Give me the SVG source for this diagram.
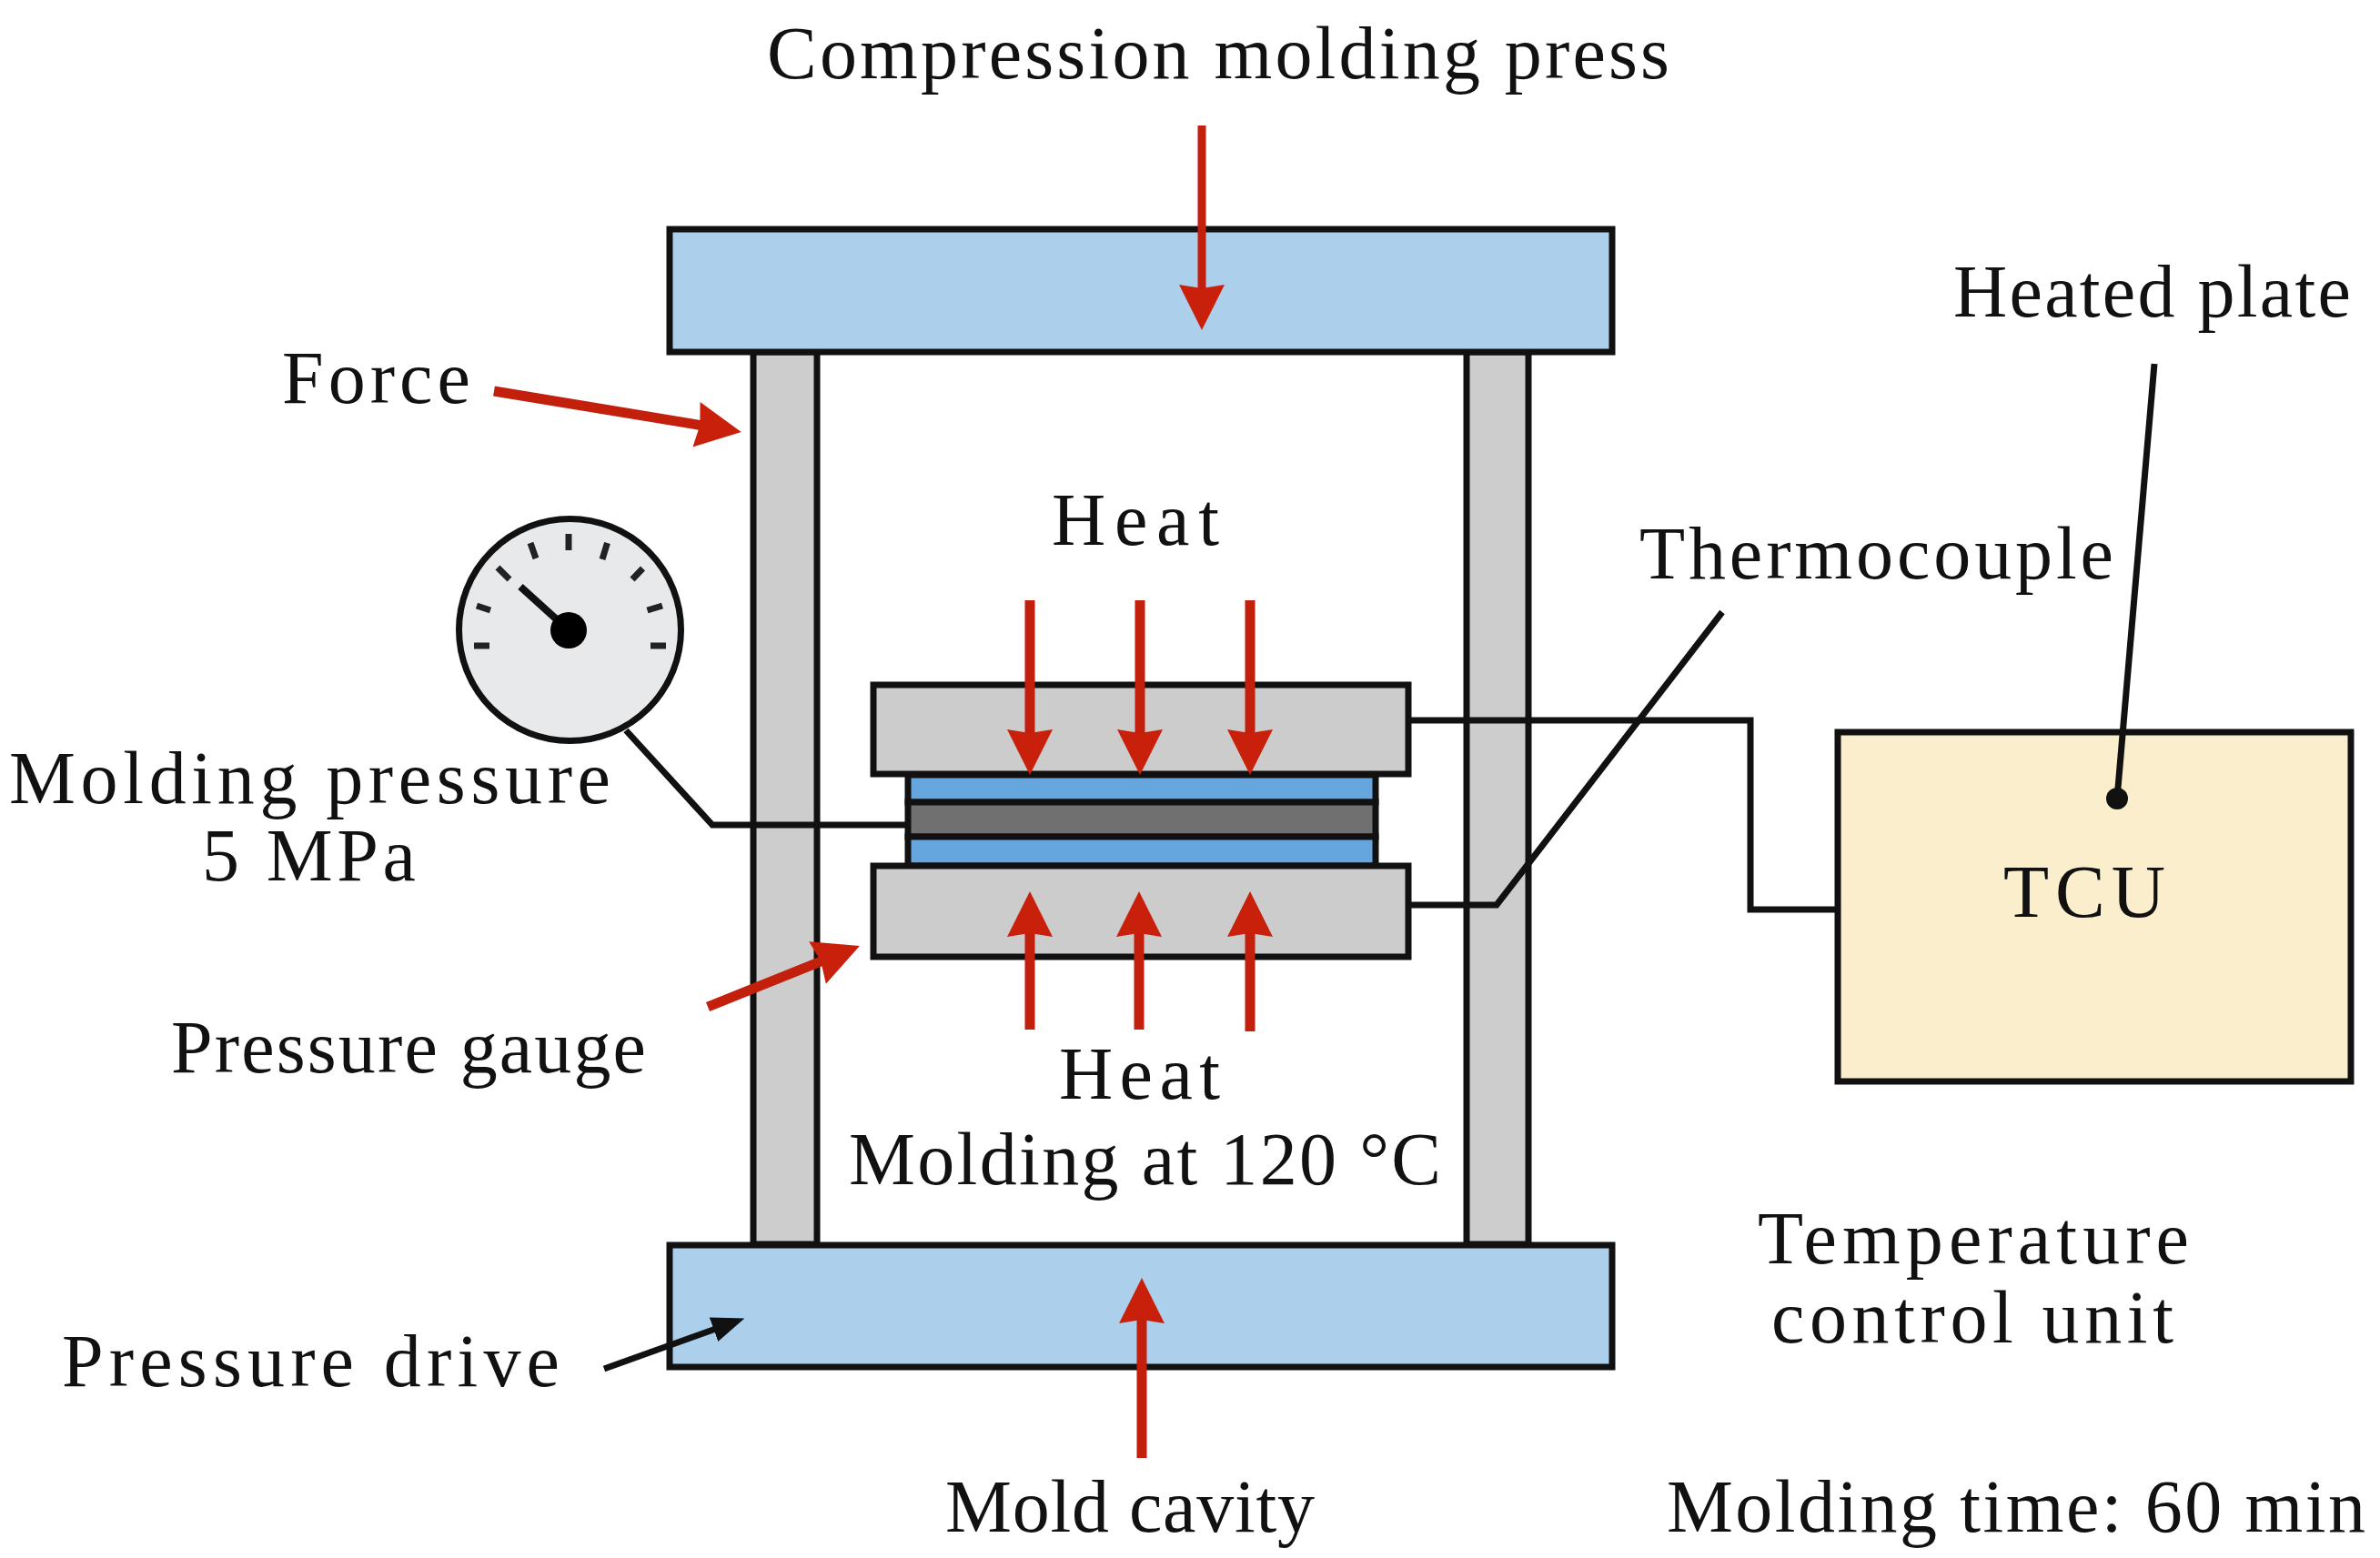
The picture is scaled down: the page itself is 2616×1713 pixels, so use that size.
<svg xmlns="http://www.w3.org/2000/svg" width="2616" height="1713" viewBox="0 0 2616 1713">
<style>
.s{stroke:#111;stroke-width:7}
.w{fill:none;stroke:#111;stroke-width:7;stroke-linejoin:miter}
.r{fill:none;stroke:#c21f0c;stroke-width:11}
.t{stroke:#222;stroke-width:7;fill:none}
text{font-family:"Liberation Serif","Times New Roman",serif;font-size:82px;fill:#111}
</style>
<defs>
<marker id="red" markerUnits="userSpaceOnUse" viewBox="0 0 50 50" refX="35" refY="25" markerWidth="50" markerHeight="50" orient="auto"><path d="M0 0L50 25L0 50L4 25Z" fill="#c9200b"/></marker>
<marker id="blk" markerUnits="userSpaceOnUse" viewBox="0 0 36 28" refX="26" refY="14" markerWidth="36" markerHeight="28" orient="auto"><path d="M0 0L36 14L0 28Z" fill="#111"/></marker>
</defs>
<rect width="2616" height="1713" fill="#fff"/>
<g id="left-column"><rect class="s" x="828" y="387" width="70" height="981" fill="#cdcdcd"/></g>
<g id="right-column"><rect class="s" x="1612" y="387" width="68" height="981" fill="#cdcdcd"/></g>
<g id="top-plate"><rect class="s" x="736" y="252" width="1036" height="135" fill="#acd0ec"/></g>
<g id="bottom-plate"><rect class="s" x="736" y="1369" width="1036" height="134" fill="#acd0ec"/></g>
<g id="mold-stack">
<rect class="s" x="998" y="852" width="514" height="30" fill="#66a6df"/>
<rect class="s" x="998" y="882" width="514" height="38" fill="#707070"/>
<rect class="s" x="998" y="920" width="514" height="32" fill="#66a6df"/>
</g>
<g id="upper-heated-plate"><rect class="s" x="960" y="753" width="588" height="98" fill="#cccccc"/></g>
<g id="lower-heated-plate"><rect class="s" x="960" y="952" width="588" height="100" fill="#cccccc"/></g>
<g id="tcu"><rect class="s" x="2020" y="805" width="564" height="384" fill="#fbeecd"/>
<text x="2202" y="1008" textLength="178" lengthAdjust="spacing">TCU</text></g>
<g id="pressure-gauge-dial">
<ellipse cx="626.500" cy="692.500" rx="122" ry="122" fill="#e7e9ea" stroke="#111" stroke-width="7"/>
<path class="t" d="M521 710H538M524 666L539 671M547 624L560 637M583 597L589 614M625 587V605M667.500 597L662 615M706.500 625L695 637M728 666L711.500 671M732 710H715"/>
<path d="M572 645L625 693" stroke="#111" stroke-width="8" fill="none"/>
<circle cx="625" cy="693" r="20" fill="#000"/>
</g>
<g id="connectors">
<path class="w" d="M688 803L783 907H998"/>
<path class="w" d="M1548 792H1924V1000H2020"/>
<path class="w" d="M1548 995H1645L1893 673"/>
<path class="w" d="M2368 400L2327 878"/>
<circle cx="2327" cy="878" r="12" fill="#111"/>
<path class="w" d="M664 1505L809 1453" marker-end="url(#blk)"/>
<path class="r" d="M1321 138V348" marker-end="url(#red)" style="stroke-width:9"/>
<path class="r" d="M1255 1603V1420" marker-end="url(#red)"/>
<path class="r" d="M543 430L800 472.500" marker-end="url(#red)"/>
<path class="r" d="M778 1107L931 1045.500" marker-end="url(#red)"/>
<path class="r" d="M1132 660V837" marker-end="url(#red)"/>
<path class="r" d="M1253 660V837" marker-end="url(#red)"/>
<path class="r" d="M1374 660V837" marker-end="url(#red)"/>
<path class="r" d="M1132 1132V995" marker-end="url(#red)"/>
<path class="r" d="M1252 1132V995" marker-end="url(#red)"/>
<path class="r" d="M1374 1134V995" marker-end="url(#red)"/>
</g>
<g id="labels">
<text x="843" y="86" textLength="992" lengthAdjust="spacing">Compression molding press</text>
<text x="310" y="443" textLength="207" lengthAdjust="spacing">Force</text>
<text x="2147" y="348" textLength="437" lengthAdjust="spacing">Heated plate</text>
<text x="1156" y="599" textLength="184" lengthAdjust="spacing">Heat</text>
<text x="1802" y="636" textLength="521" lengthAdjust="spacing">Thermocouple</text>
<text x="10" y="883" textLength="661" lengthAdjust="spacing">Molding pressure</text>
<text x="222" y="968" textLength="235" lengthAdjust="spacing">5 MPa</text>
<text x="188" y="1179" textLength="522" lengthAdjust="spacing">Pressure gauge</text>
<text x="1164" y="1208" textLength="177" lengthAdjust="spacing">Heat</text>
<text x="933" y="1302" textLength="651" lengthAdjust="spacing">Molding at 120 °C</text>
<text x="1932" y="1389" textLength="474" lengthAdjust="spacing">Temperature</text>
<text x="1947" y="1476" textLength="442" lengthAdjust="spacing">control unit</text>
<text x="68" y="1524" textLength="547" lengthAdjust="spacing">Pressure drive</text>
<text x="1039" y="1684" textLength="406" lengthAdjust="spacing">Mold cavity</text>
<text x="1832" y="1684" textLength="768" lengthAdjust="spacing">Molding time: 60 min</text>
</g>
</svg>
